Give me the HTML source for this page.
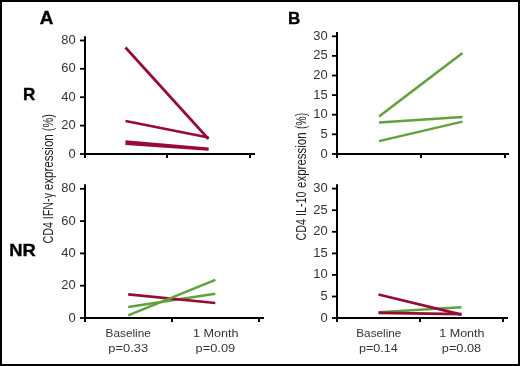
<!DOCTYPE html>
<html><head><meta charset="utf-8"><style>
html,body{margin:0;padding:0;background:#fff;}
body{width:520px;height:366px;overflow:hidden;}
svg{display:block;will-change:transform;}
text{font-family:"Liberation Sans",sans-serif;}
.t{font-size:12px;fill:#333;}
.l{font-size:11.5px;fill:#333;}
.b{font-size:17px;font-weight:bold;fill:#000;stroke:#000;stroke-width:0.35px;}
.y{font-size:14px;fill:#222;}
</style></head><body>
<svg width="520" height="366" viewBox="0 0 520 366">
<rect x="0" y="0" width="520" height="366" fill="#fff"/>
<text x="39.8" y="23.6" class="b" style="font-size:17.5px" textLength="13.6" lengthAdjust="spacingAndGlyphs">A</text>
<text x="287.9" y="23.5" class="b" style="font-size:17px">B</text>
<text x="35.4" y="99.9" class="b" text-anchor="end">R</text>
<text x="9.2" y="255.8" class="b" textLength="26.6" lengthAdjust="spacingAndGlyphs">NR</text>
<g transform="rotate(-90)">
<text x="-243.6" y="53" class="y" textLength="50.6" lengthAdjust="spacingAndGlyphs">CD4 IFN-&#947;</text>
<text x="-190.2" y="53" class="y" textLength="56" lengthAdjust="spacingAndGlyphs">expression</text>
<text x="-131.2" y="53" class="y" textLength="17" lengthAdjust="spacingAndGlyphs">(%)</text>
</g>
<g transform="rotate(-90)">
<text x="-240.4" y="305.5" class="y" textLength="48.8" lengthAdjust="spacingAndGlyphs">CD4 IL-10</text>
<text x="-187.9" y="305.5" class="y" textLength="55.4" lengthAdjust="spacingAndGlyphs">expression</text>
<text x="-128.9" y="305.5" class="y" textLength="16" lengthAdjust="spacingAndGlyphs">(%)</text>
</g>
<line x1="125.5" y1="47.5" x2="208.5" y2="139" stroke="#980c34" stroke-width="2.7" stroke-linecap="butt"/>
<line x1="125.5" y1="121" x2="208.5" y2="137.5" stroke="#980c34" stroke-width="2.7" stroke-linecap="butt"/>
<line x1="125.5" y1="141.6" x2="208.5" y2="148.8" stroke="#980c34" stroke-width="2.7" stroke-linecap="butt"/>
<line x1="125.5" y1="143.6" x2="208.5" y2="149.5" stroke="#980c34" stroke-width="2.7" stroke-linecap="butt"/>
<line x1="85" y1="36.3" x2="85" y2="158" stroke="#000" stroke-width="2"/>
<line x1="84" y1="154" x2="255" y2="154" stroke="#000" stroke-width="2"/>
<line x1="167" y1="154" x2="167" y2="158" stroke="#000" stroke-width="2"/>
<line x1="250" y1="154" x2="250" y2="158" stroke="#000" stroke-width="2"/>
<line x1="80" y1="40.5" x2="85" y2="40.5" stroke="#000" stroke-width="1.8"/>
<text x="75.7" y="44.0" text-anchor="end" class="t" textLength="14.41" lengthAdjust="spacingAndGlyphs">80</text>
<line x1="80" y1="68.8" x2="85" y2="68.8" stroke="#000" stroke-width="1.8"/>
<text x="75.7" y="72.3" text-anchor="end" class="t" textLength="14.41" lengthAdjust="spacingAndGlyphs">60</text>
<line x1="80" y1="97.2" x2="85" y2="97.2" stroke="#000" stroke-width="1.8"/>
<text x="75.7" y="100.7" text-anchor="end" class="t" textLength="14.41" lengthAdjust="spacingAndGlyphs">40</text>
<line x1="80" y1="125.6" x2="85" y2="125.6" stroke="#000" stroke-width="1.8"/>
<text x="75.7" y="129.1" text-anchor="end" class="t" textLength="14.41" lengthAdjust="spacingAndGlyphs">20</text>
<line x1="80" y1="154" x2="85" y2="154" stroke="#000" stroke-width="1.8"/>
<text x="75.7" y="157.5" text-anchor="end" class="t" textLength="7.21" lengthAdjust="spacingAndGlyphs">0</text>
<line x1="379" y1="116.6" x2="462.5" y2="53" stroke="#62a03e" stroke-width="2.5" stroke-linecap="butt"/>
<line x1="379" y1="122.5" x2="462.5" y2="117" stroke="#62a03e" stroke-width="2.5" stroke-linecap="butt"/>
<line x1="379" y1="141.1" x2="462.5" y2="121.6" stroke="#62a03e" stroke-width="2.5" stroke-linecap="butt"/>
<line x1="337" y1="32" x2="337" y2="158" stroke="#000" stroke-width="2"/>
<line x1="336" y1="154" x2="509" y2="154" stroke="#000" stroke-width="2"/>
<line x1="421" y1="154" x2="421" y2="158" stroke="#000" stroke-width="2"/>
<line x1="505" y1="154" x2="505" y2="158" stroke="#000" stroke-width="2"/>
<line x1="332" y1="36.3" x2="337" y2="36.3" stroke="#000" stroke-width="1.8"/>
<text x="327.7" y="39.8" text-anchor="end" class="t" textLength="14.41" lengthAdjust="spacingAndGlyphs">30</text>
<line x1="332" y1="55.9" x2="337" y2="55.9" stroke="#000" stroke-width="1.8"/>
<text x="327.7" y="59.4" text-anchor="end" class="t" textLength="14.41" lengthAdjust="spacingAndGlyphs">25</text>
<line x1="332" y1="75.5" x2="337" y2="75.5" stroke="#000" stroke-width="1.8"/>
<text x="327.7" y="79.0" text-anchor="end" class="t" textLength="14.41" lengthAdjust="spacingAndGlyphs">20</text>
<line x1="332" y1="95.1" x2="337" y2="95.1" stroke="#000" stroke-width="1.8"/>
<text x="327.7" y="98.6" text-anchor="end" class="t" textLength="14.41" lengthAdjust="spacingAndGlyphs">15</text>
<line x1="332" y1="114.7" x2="337" y2="114.7" stroke="#000" stroke-width="1.8"/>
<text x="327.7" y="118.2" text-anchor="end" class="t" textLength="14.41" lengthAdjust="spacingAndGlyphs">10</text>
<line x1="332" y1="134.3" x2="337" y2="134.3" stroke="#000" stroke-width="1.8"/>
<text x="327.7" y="137.8" text-anchor="end" class="t" textLength="7.21" lengthAdjust="spacingAndGlyphs">5</text>
<line x1="332" y1="154" x2="337" y2="154" stroke="#000" stroke-width="1.8"/>
<text x="327.7" y="157.5" text-anchor="end" class="t" textLength="7.21" lengthAdjust="spacingAndGlyphs">0</text>
<line x1="128.2" y1="307" x2="215.3" y2="293.8" stroke="#62a03e" stroke-width="2.5" stroke-linecap="butt"/>
<line x1="128.2" y1="294.3" x2="215.3" y2="303" stroke="#980c34" stroke-width="2.7" stroke-linecap="butt"/>
<line x1="128.2" y1="315.4" x2="215.3" y2="279.8" stroke="#62a03e" stroke-width="2.5" stroke-linecap="butt"/>
<line x1="85" y1="184.2" x2="85" y2="322" stroke="#000" stroke-width="2"/>
<line x1="84" y1="318" x2="264" y2="318" stroke="#000" stroke-width="2"/>
<line x1="172" y1="318" x2="172" y2="322" stroke="#000" stroke-width="2"/>
<line x1="259" y1="318" x2="259" y2="322" stroke="#000" stroke-width="2"/>
<line x1="80" y1="188.8" x2="85" y2="188.8" stroke="#000" stroke-width="1.8"/>
<text x="75.7" y="192.3" text-anchor="end" class="t" textLength="14.41" lengthAdjust="spacingAndGlyphs">80</text>
<line x1="80" y1="221.1" x2="85" y2="221.1" stroke="#000" stroke-width="1.8"/>
<text x="75.7" y="224.6" text-anchor="end" class="t" textLength="14.41" lengthAdjust="spacingAndGlyphs">60</text>
<line x1="80" y1="253.4" x2="85" y2="253.4" stroke="#000" stroke-width="1.8"/>
<text x="75.7" y="256.9" text-anchor="end" class="t" textLength="14.41" lengthAdjust="spacingAndGlyphs">40</text>
<line x1="80" y1="285.7" x2="85" y2="285.7" stroke="#000" stroke-width="1.8"/>
<text x="75.7" y="289.2" text-anchor="end" class="t" textLength="14.41" lengthAdjust="spacingAndGlyphs">20</text>
<line x1="80" y1="318" x2="85" y2="318" stroke="#000" stroke-width="1.8"/>
<text x="75.7" y="321.5" text-anchor="end" class="t" textLength="7.21" lengthAdjust="spacingAndGlyphs">0</text>
<line x1="378.5" y1="312.3" x2="461.5" y2="307.2" stroke="#62a03e" stroke-width="2.5" stroke-linecap="butt"/>
<line x1="378.5" y1="294.5" x2="461.5" y2="314.6" stroke="#980c34" stroke-width="2.7" stroke-linecap="butt"/>
<line x1="378.5" y1="312.8" x2="461.5" y2="314.2" stroke="#980c34" stroke-width="2.7" stroke-linecap="butt"/>
<line x1="337" y1="184.2" x2="337" y2="322" stroke="#000" stroke-width="2"/>
<line x1="336" y1="318" x2="508" y2="318" stroke="#000" stroke-width="2"/>
<line x1="420" y1="318" x2="420" y2="322" stroke="#000" stroke-width="2"/>
<line x1="503" y1="318" x2="503" y2="322" stroke="#000" stroke-width="2"/>
<line x1="332" y1="188.6" x2="337" y2="188.6" stroke="#000" stroke-width="1.8"/>
<text x="327.7" y="192.1" text-anchor="end" class="t" textLength="14.41" lengthAdjust="spacingAndGlyphs">30</text>
<line x1="332" y1="210.2" x2="337" y2="210.2" stroke="#000" stroke-width="1.8"/>
<text x="327.7" y="213.7" text-anchor="end" class="t" textLength="14.41" lengthAdjust="spacingAndGlyphs">25</text>
<line x1="332" y1="231.8" x2="337" y2="231.8" stroke="#000" stroke-width="1.8"/>
<text x="327.7" y="235.3" text-anchor="end" class="t" textLength="14.41" lengthAdjust="spacingAndGlyphs">20</text>
<line x1="332" y1="253.4" x2="337" y2="253.4" stroke="#000" stroke-width="1.8"/>
<text x="327.7" y="256.9" text-anchor="end" class="t" textLength="14.41" lengthAdjust="spacingAndGlyphs">15</text>
<line x1="332" y1="274.9" x2="337" y2="274.9" stroke="#000" stroke-width="1.8"/>
<text x="327.7" y="278.4" text-anchor="end" class="t" textLength="14.41" lengthAdjust="spacingAndGlyphs">10</text>
<line x1="332" y1="296.5" x2="337" y2="296.5" stroke="#000" stroke-width="1.8"/>
<text x="327.7" y="300.0" text-anchor="end" class="t" textLength="7.21" lengthAdjust="spacingAndGlyphs">5</text>
<line x1="332" y1="318" x2="337" y2="318" stroke="#000" stroke-width="1.8"/>
<text x="327.7" y="321.5" text-anchor="end" class="t" textLength="7.21" lengthAdjust="spacingAndGlyphs">0</text>
<text x="128.2" y="337.3" class="l" text-anchor="middle" textLength="45.2" lengthAdjust="spacingAndGlyphs">Baseline</text>
<text x="128.2" y="351.7" class="l" text-anchor="middle" textLength="39.8" lengthAdjust="spacingAndGlyphs">p=0.33</text>
<text x="215.8" y="337.3" class="l" text-anchor="middle" textLength="45.6" lengthAdjust="spacingAndGlyphs">1 Month</text>
<text x="215.4" y="351.7" class="l" text-anchor="middle" textLength="39.6" lengthAdjust="spacingAndGlyphs">p=0.09</text>
<text x="378.8" y="337.3" class="l" text-anchor="middle" textLength="45.0" lengthAdjust="spacingAndGlyphs">Baseline</text>
<text x="378.4" y="351.7" class="l" text-anchor="middle" textLength="39.0" lengthAdjust="spacingAndGlyphs">p=0.14</text>
<text x="461.9" y="337.3" class="l" text-anchor="middle" textLength="45.4" lengthAdjust="spacingAndGlyphs">1 Month</text>
<text x="461.5" y="351.7" class="l" text-anchor="middle" textLength="39.3" lengthAdjust="spacingAndGlyphs">p=0.08</text>
<rect x="1" y="1" width="518" height="364" fill="none" stroke="#000" stroke-width="2"/>
</svg>
</body></html>
